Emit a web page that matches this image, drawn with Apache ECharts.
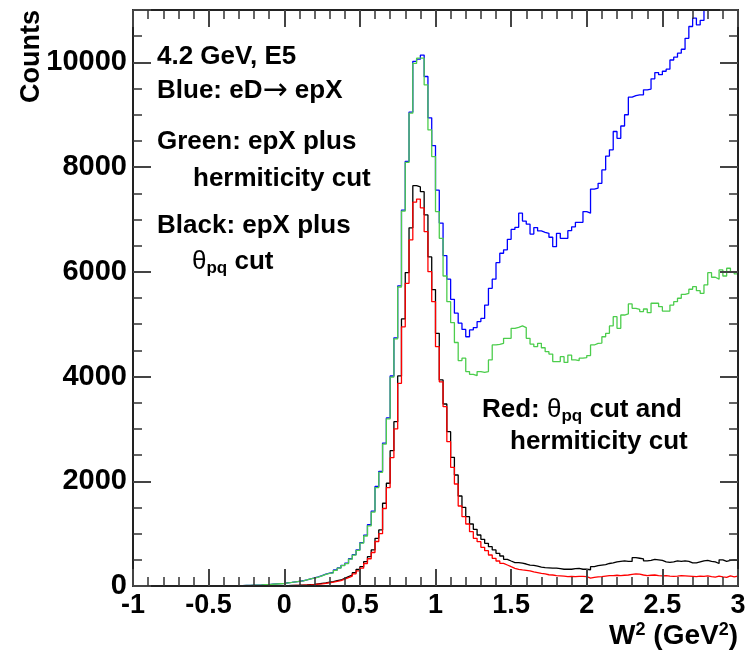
<!DOCTYPE html>
<html>
<head>
<meta charset="utf-8">
<title>W2 spectrum</title>
<script src="https://cdn.jsdelivr.net/npm/echarts@6/dist/echarts.min.js"></script>
<style>
    html, body { margin: 0; padding: 0; background: #fff; }
    #chart { width: 753px; height: 651px; }
</style>
</head>
<body>
<div id="chart"></div>
<script>
// histogram binning: 160 bins of 0.025 from -1 to 3
var xMin = -1;
var xMax = 3;
var binWidth = 0.025;
var xTicks = [-1, -0.5, 0, 0.5, 1, 1.5, 2, 2.5, 3];
var yTicks = [0, 2000, 4000, 6000, 8000, 10000];

// Blue: eD -> epX
var blueCounts = [
    0, 0, 0, 0, 0, 0, 0, 0, 0, 0, 0, 0, 0, 0, 0, 0, 0, 0, 0, 0,
    0, 0, 0, 0, 0, 2, 3, 5, 8, 10, 12, 15, 18, 20, 24, 28, 35, 40, 45, 50,
    62, 70, 80, 90, 100, 118, 138, 155, 175, 200, 228, 245, 258, 306, 345, 395, 435, 520, 600, 690,
    830, 970, 1170, 1430, 1900, 2190, 2730, 3210, 4010, 4740, 5730, 7180, 8110, 9050, 10020, 10060, 10140, 9730, 8940, 8410,
    7560, 6930, 6310, 5860, 5475, 5210, 5020, 4900, 4760, 4890, 4935, 5050, 5110, 5365, 5685, 5860, 6175, 6355, 6420, 6620,
    6810, 6850, 7120, 6970, 6910, 6720, 6845, 6780, 6755, 6735, 6660, 6480, 6735, 6640, 6640, 6785, 6860, 6945, 6945, 7150,
    7120, 7580, 7600, 7690, 7945, 8210, 8330, 8680, 8550, 8785, 9000, 9335, 9365, 9380, 9380, 9475, 9490, 9685, 9805, 9765,
    9830, 9870, 10045, 10100, 10175, 10250, 10460, 10685, 10845, 10715, 10800, 11150, 11250, 11300, 11400, 11450, 11500, 11600, 11650, 11700
];

// Green: epX plus hermiticity cut
var greenCounts = [
    0, 0, 0, 0, 0, 0, 0, 0, 0, 0, 0, 0, 0, 0, 0, 0, 0, 0, 0, 0,
    0, 0, 0, 0, 0, 2, 3, 5, 8, 10, 12, 15, 18, 20, 24, 28, 33, 38, 43, 48,
    60, 68, 78, 88, 98, 115, 135, 150, 170, 195, 222, 240, 252, 300, 340, 388, 428, 512, 590, 680,
    818, 955, 1150, 1410, 1880, 2170, 2710, 3190, 3990, 4720, 5710, 7160, 8090, 9030, 9980, 10080, 10080, 9570, 8710, 8200,
    7150, 6640, 5920, 5430, 5030, 4650, 4305, 4350, 4095, 4043, 4017, 4095, 4080, 4095, 4317, 4603, 4615, 4635, 4730, 4730,
    4920, 4940, 4966, 4935, 4730, 4620, 4570, 4635, 4550, 4475, 4430, 4285, 4285, 4380, 4270, 4410, 4317, 4305, 4350, 4360,
    4400, 4603, 4635, 4640, 4760, 4826, 4966, 5143, 4920, 5175, 5195, 5386, 5303, 5283, 5240, 5290, 5220, 5400, 5400, 5335,
    5250, 5250, 5365, 5430, 5495, 5570, 5590, 5667, 5717, 5640, 5590, 5750, 5984, 5896, 5860, 6036, 5920, 6068, 6003, 5960
];

// Black: epX plus theta_pq cut
var blackCounts = [
    0, 0, 0, 0, 0, 0, 0, 0, 0, 0, 0, 0, 0, 0, 0, 0, 0, 0, 0, 0,
    0, 0, 0, 0, 0, 0, 0, 0, 0, 0, 1, 1, 2, 2, 3, 3, 4, 5, 6, 7,
    8, 10, 12, 14, 17, 20, 25, 30, 40, 50, 60, 72, 83, 101, 115, 146, 178, 210, 255, 318,
    369, 464, 560, 688, 911, 1070, 1580, 1962, 2585, 3138, 4011, 5100, 5985, 6840, 7645, 7620, 7530, 7086, 6285, 5660,
    4826, 3935, 3476, 2947, 2458, 2120, 1719, 1503, 1324, 1184, 1083, 974, 892, 815, 751, 688, 624, 573, 509, 477,
    446, 446, 435, 420, 400, 395, 380, 360, 350, 345, 340, 340, 330, 320, 320, 320, 330, 335, 320, 320,
    310, 370, 390, 400, 410, 430, 440, 460, 470, 480, 470, 470, 540, 530, 520, 480, 490, 510, 500, 490,
    460, 450, 460, 480, 470, 480, 470, 440, 440, 460, 480, 490, 470, 460, 430, 500, 470, 490, 500, 490
];

// Red: theta_pq cut and hermiticity cut
var redCounts = [
    0, 0, 0, 0, 0, 0, 0, 0, 0, 0, 0, 0, 0, 0, 0, 0, 0, 0, 0, 0,
    0, 0, 0, 0, 0, 0, 0, 0, 0, 0, 1, 1, 1, 2, 2, 3, 3, 4, 5, 6,
    7, 8, 10, 12, 14, 17, 21, 26, 34, 42, 52, 62, 72, 88, 102, 130, 160, 190, 232, 290,
    340, 430, 520, 640, 850, 1000, 1480, 1880, 2450, 3000, 3870, 4950, 5780, 6610, 7330, 7390, 7220, 6767, 6003, 5430,
    4570, 3900, 3425, 2756, 2267, 1948, 1528, 1324, 1184, 1037, 911, 846, 739, 674, 592, 529, 477, 433, 401, 369,
    338, 318, 306, 300, 290, 270, 255, 240, 230, 215, 210, 200, 195, 190, 180, 185, 180, 185, 185, 180,
    150, 165, 175, 180, 190, 200, 200, 205, 200, 205, 210, 220, 230, 225, 210, 200, 205, 210, 200, 195,
    200, 190, 185, 190, 200, 195, 190, 185, 180, 190, 185, 195, 180, 170, 190, 175, 165, 195, 175, 190
];

var fontFamily = '"Liberation Sans", Arial, Helvetica, sans-serif';

// left bin edge + count, closing point at xMax so last bin gets drawn
function toSteps(counts) {
    var pts = [];
    for (var i = 0; i < counts.length; i++) {
        pts.push([xMin + i * binWidth, counts[i]]);
    }
    pts.push([xMax, counts[counts.length - 1]]);
    return pts;
}

function histSeries(name, counts, color) {
    return {
        name: name,
        type: 'line',
        step: 'end',
        symbol: 'none',
        clip: true,
        silent: true,
        lineStyle: { color: color, width: 1.3 },
        data: toSteps(counts)
    };
}

// ROOT style frame: ticks inside on all four sides
function frameAxis(kind, pos, labels) {
    var isX = kind === 'x';
    var o = {
        type: 'value',
        position: pos,
        z: 5,
        min: isX ? xMin : yTicks[0],
        max: isX ? xMax : 11000,
        interval: isX ? xTicks[1] - xTicks[0] : yTicks[1] - yTicks[0],
        axisLine: { show: true, onZero: false, lineStyle: { color: '#222', width: 2 } },
        axisTick: { show: true, inside: true, length: isX ? 17 : 18, lineStyle: { color: '#444', width: 2 } },
        minorTick: { show: true, splitNumber: isX ? 5 : 4, length: 9, lineStyle: { color: '#333', width: 1.5 } },
        splitLine: { show: false },
        axisLabel: { show: labels }
    };
    if (labels) {
        o.axisLabel = {
            show: true,
            margin: 6,
            color: '#000',
            fontSize: isX ? 27 : 29,
            fontWeight: 'bold',
            fontFamily: fontFamily,
            formatter: function (v) { return String(v); }
        };
        if (!isX) o.axisLabel.showMaxLabel = false;
    }
    return o;
}

// text labels on the plot
var rich = {
    b: { fontSize: 26, fontWeight: 'bold', fontFamily: fontFamily, fill: '#000' },
    th: { fontSize: 26, fontWeight: 'normal', fontFamily: fontFamily, fill: '#000' },
    sub: { fontSize: 17, fontWeight: 'bold', fontFamily: fontFamily, fill: '#000', padding: [12, 0, 0, 0] },
    x: { fontSize: 28, fontWeight: 'bold', fontFamily: fontFamily, fill: '#000' },
    sup: { fontSize: 18, fontWeight: 'bold', fontFamily: fontFamily, fill: '#000', padding: [0, 0, 11, 0] },
    ar: { fontSize: 30, fontWeight: 'normal', fontFamily: '"DejaVu Sans", sans-serif', fill: '#000' }
};

function textAt(x, y, text, align) {
    return {
        type: 'text',
        x: x,
        y: y,
        z: 10,
        style: {
            text: text,
            rich: rich,
            font: 'bold 26px ' + fontFamily,
            fill: '#000',
            align: align || 'left',
            verticalAlign: 'middle'
        }
    };
}

var myChart = echarts.init(document.getElementById('chart'));

var option = {
    animation: false,
    grid: { left: 133, right: 15, top: 10, bottom: 65 },
    xAxis: [frameAxis('x', 'bottom', true), frameAxis('x', 'top', false)],
    yAxis: [frameAxis('y', 'left', true), frameAxis('y', 'right', false)],
    series: [
        histSeries('Blue', blueCounts, '#0000ff'),
        histSeries('Green', greenCounts, '#4ccd4c'),
        histSeries('Black', blackCounts, '#000000'),
        histSeries('Red', redCounts, '#ff0000')
    ],
    graphic: [
        textAt(157, 57, '{b|4.2 GeV, E5}'),
        textAt(157, 91, '{b|Blue: eD}{ar|→}{b| epX}'),
        textAt(157, 142, '{b|Green: epX plus}'),
        textAt(193, 179, '{b|hermiticity cut}'),
        textAt(157, 226, '{b|Black: epX plus}'),
        textAt(192, 262, '{th|θ}{sub|pq}{b| cut}'),
        textAt(482, 410, '{b|Red: }{th|θ}{sub|pq}{b| cut and}'),
        textAt(510, 442, '{b|hermiticity cut}'),
        textAt(738, 636, '{x|W}{sup|2}{x| (GeV}{sup|2}{x|)}', 'right'),
        {
            type: 'text',
            x: 32,
            y: 10,
            rotation: Math.PI / 2,
            style: {
                text: 'Counts',
                font: 'bold 27px ' + fontFamily,
                fill: '#000',
                align: 'right',
                verticalAlign: 'middle'
            }
        }
    ]
};

myChart.setOption(option);
</script>
</body>
</html>
